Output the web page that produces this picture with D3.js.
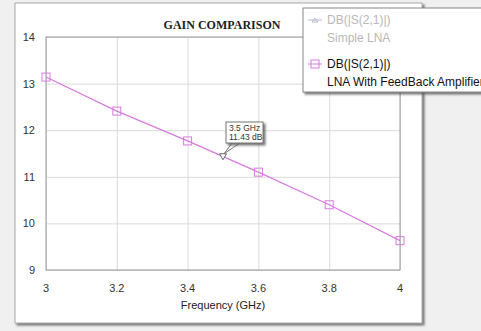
<!DOCTYPE html>
<html>
<head>
<meta charset="utf-8">
<script src="https://cdn.jsdelivr.net/npm/d3@7"></script>
<style>
  html, body { margin: 0; padding: 0; background: #f0f0f0; overflow: hidden; }
  svg { display: block; }
</style>
</head>
<body>
<div id="chart"></div>
<script>
// data
let freqs = [3, 3.2, 3.4, 3.6, 3.8, 4];
let gainFeedback = [13.14, 12.41, 11.77, 11.1, 10.4, 9.63];
let xTicks = [3, 3.2, 3.4, 3.6, 3.8, 4];
let yTicks = [9, 10, 11, 12, 13, 14];
let markerFreq = [3.5];
let markerGain = [11.43];
let legendNames = ['Simple LNA', 'LNA With FeedBack Amplifier'];
let legendMeasure = ['DB(|S(2,1)|)', 'DB(|S(2,1)|)'];

let width = 481, height = 331;
let plot = { left: 46, top: 37, right: 400, bottom: 270 };
let traceColor = '#d77be0';

let svg = d3.select('#chart')
            .append('svg')
            .attr('width', width)
            .attr('height', height);

//drop shadow filter for panel, legend, marker box
let defs = svg.append('defs');
let f = defs.append('filter').attr('id', 'shadow')
            .attr('x', '-10%').attr('y', '-10%').attr('width', '130%').attr('height', '130%');
f.append('feDropShadow').attr('dx', 2).attr('dy', 2).attr('stdDeviation', 0.8)
 .attr('flood-color', '#555').attr('flood-opacity', 0.8);

//white panel
svg.append('rect')
   .attr('x', 15).attr('y', 3)
   .attr('width', 407).attr('height', 320)
   .attr('fill', '#fff')
   .attr('stroke', '#a8a8a8')
   .attr('filter', 'url(#shadow)');

//scales
let x = d3.scaleLinear().domain([3, 4]).range([plot.left, plot.right]);
let y = d3.scaleLinear().domain([9, 14]).range([plot.bottom, plot.top]);

//grid
svg.append('g')
   .attr('transform', `translate(0,${plot.bottom})`)
   .call(d3.axisBottom(x).tickValues(xTicks).tickSize(-(plot.bottom - plot.top)).tickFormat(''))
   .call(g => g.select('.domain').remove())
   .call(g => g.selectAll('line').attr('stroke', '#dadada'));

svg.append('g')
   .attr('transform', `translate(${plot.left},0)`)
   .call(d3.axisLeft(y).tickValues(yTicks).tickSize(-(plot.right - plot.left)).tickFormat(''))
   .call(g => g.select('.domain').remove())
   .call(g => g.selectAll('line').attr('stroke', '#dadada'));

//plot frame
svg.append('rect')
   .attr('x', plot.left).attr('y', plot.top)
   .attr('width', plot.right - plot.left).attr('height', plot.bottom - plot.top)
   .attr('fill', 'none')
   .attr('stroke', '#9a9a9a');

//tick labels
svg.append('g')
   .selectAll('text')
   .data(xTicks)
   .enter()
   .append('text')
   .attr('x', d => x(d))
   .attr('y', 292)
   .attr('text-anchor', 'middle')
   .attr('font-family', 'Arial, "Liberation Sans", sans-serif')
   .attr('font-size', '11px')
   .attr('fill', '#333')
   .text(d => d);

svg.append('g')
   .selectAll('text')
   .data(yTicks)
   .enter()
   .append('text')
   .attr('x', 35)
   .attr('y', d => y(d) + 4)
   .attr('text-anchor', 'end')
   .attr('font-family', 'Arial, "Liberation Sans", sans-serif')
   .attr('font-size', '11px')
   .attr('fill', '#333')
   .text(d => d);

//axis title + chart title
svg.append('text')
   .attr('x', 223).attr('y', 309)
   .attr('text-anchor', 'middle')
   .attr('font-family', 'Arial, "Liberation Sans", sans-serif')
   .attr('font-size', '11px')
   .attr('fill', '#222')
   .text('Frequency (GHz)');

svg.append('text')
   .attr('x', 222).attr('y', 29)
   .attr('text-anchor', 'middle')
   .attr('font-family', '"Times New Roman", "Liberation Serif", serif')
   .attr('font-weight', 'bold')
   .attr('font-size', '12px')
   .attr('fill', '#222')
   .text('GAIN COMPARISON');

//trace line
let pts = freqs.map((d, i) => [d, gainFeedback[i]]);
let line = d3.line().x(d => x(d[0])).y(d => y(d[1]));

svg.append('path')
   .datum(pts)
   .attr('d', line)
   .attr('fill', 'none')
   .attr('stroke', traceColor)
   .attr('stroke-width', 1.2);

//square markers
svg.selectAll('.sq')
   .data(pts)
   .enter()
   .append('rect')
   .attr('class', 'sq')
   .attr('x', d => x(d[0]) - 4)
   .attr('y', d => y(d[1]) - 4)
   .attr('width', 8).attr('height', 8)
   .attr('fill', 'none')
   .attr('stroke', traceColor)
   .attr('stroke-width', 1);

//marker triangle + readout box
let mx = x(markerFreq[0]), my = y(markerGain[0]);
svg.append('path')
   .attr('d', `M${mx - 3.5},${my - 3} L${mx + 3.5},${my - 3} L${mx},${my + 3} Z`)
   .attr('fill', '#fff')
   .attr('stroke', '#666');

let bx = 226, by = 122;
svg.append('path')
   .attr('d', `M${bx + 6},${by + 21} L${mx + 1},${my - 3} L${bx + 14},${by + 21}`)
   .attr('fill', '#fff')
   .attr('stroke', '#777');
svg.append('rect')
   .attr('x', bx).attr('y', by)
   .attr('width', 37).attr('height', 21)
   .attr('fill', '#fff')
   .attr('stroke', '#777')
   .attr('filter', 'url(#shadow)');
svg.append('text')
   .attr('x', bx + 3).attr('y', by + 9)
   .attr('font-family', 'Arial, "Liberation Sans", sans-serif')
   .attr('font-size', '8.5px')
   .attr('fill', '#333')
   .text(markerFreq[0] + ' GHz');
svg.append('text')
   .attr('x', bx + 3).attr('y', by + 18)
   .attr('font-family', 'Arial, "Liberation Sans", sans-serif')
   .attr('font-size', '8.5px')
   .attr('fill', '#333')
   .text(markerGain[0] + ' dB');

//legend
let lg = svg.append('g');
lg.append('rect')
  .attr('x', 303).attr('y', 8)
  .attr('width', 200).attr('height', 84)
  .attr('fill', '#fff')
  .attr('stroke', '#888')
  .attr('filter', 'url(#shadow)');

let legendColors = ['#b9b9cf', traceColor];
let legendText = ['#b8b8b8', '#111'];
let rowY = [20, 64];

legendNames.forEach(function(name, i) {
  let ly = rowY[i];
  lg.append('line')
    .attr('x1', 308).attr('x2', 322)
    .attr('y1', ly).attr('y2', ly)
    .attr('stroke', legendColors[i]);
  if (i == 0) {
    lg.append('path')
      .attr('d', `M312,${ly + 2} L318,${ly + 2} L315,${ly - 2} Z`)
      .attr('fill', 'none')
      .attr('stroke', legendColors[i]);
  } else {
    lg.append('rect')
      .attr('x', 311).attr('y', ly - 4)
      .attr('width', 8).attr('height', 8)
      .attr('fill', 'none')
      .attr('stroke', legendColors[i]);
  }
  lg.append('text')
    .attr('x', 327).attr('y', ly + 4)
    .attr('font-family', 'Arial, "Liberation Sans", sans-serif')
    .attr('font-size', '12px')
    .attr('fill', legendText[i])
    .text(legendMeasure[i]);
  lg.append('text')
    .attr('x', 327).attr('y', ly + 22)
    .attr('font-family', 'Arial, "Liberation Sans", sans-serif')
    .attr('font-size', '12px')
    .attr('fill', legendText[i])
    .text(name);
});
</script>
</body>
</html>
